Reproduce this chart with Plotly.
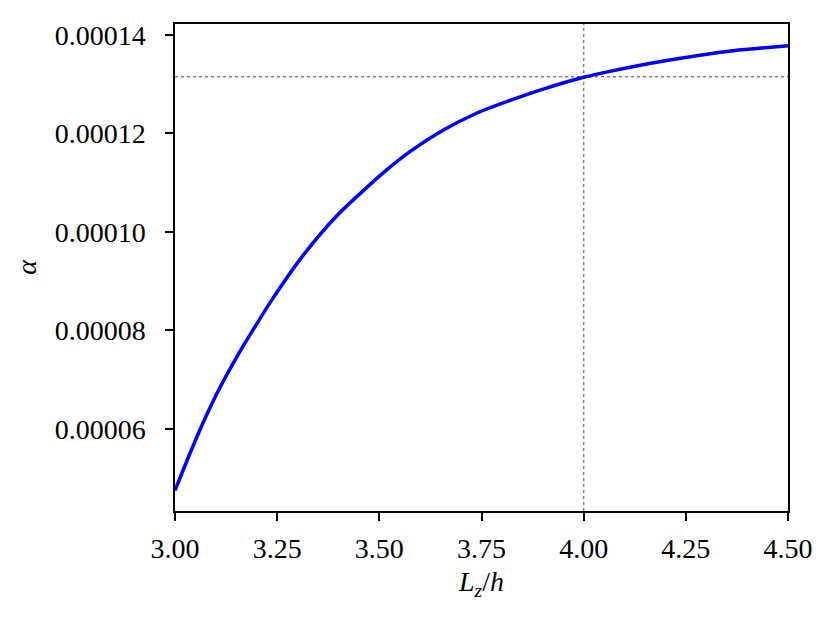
import plotly.graph_objects as go

# Data
lz_h = [3.000, 3.037, 3.069, 3.110, 3.151, 3.188, 3.237, 3.314, 3.396, 3.477, 3.518,
        3.575, 3.657, 3.738, 3.820, 3.901, 4.000, 4.064, 4.203, 4.366, 4.500]
alpha = [4.75e-5, 5.51e-5, 6.13e-5, 6.84e-5, 7.46e-5, 7.97e-5, 8.62e-5, 9.53e-5, 1.033e-4,
         1.096e-4, 1.126e-4, 1.163e-4, 1.207e-4, 1.241e-4, 1.267e-4, 1.290e-4, 1.314e-4,
         1.326e-4, 1.348e-4, 1.368e-4, 1.378e-4]
ref_x = 4.0
ref_y = 1.315e-4

x_tick_vals = [3.00, 3.25, 3.50, 3.75, 4.00, 4.25, 4.50]
y_tick_vals = [6e-5, 8e-5, 1e-4, 1.2e-4, 1.4e-4]

x_range = [3.0, 4.5]
y_range = [4.333e-5, 1.4222e-4]

font_family = "Liberation Serif, DejaVu Serif, serif"

fig = go.Figure()
fig.add_trace(go.Scatter(
    x=lz_h, y=alpha, mode="lines",
    line=dict(color="#0000ff", width=3.5, shape="spline", smoothing=0.7),
    showlegend=False, hoverinfo="skip",
))

fig.add_shape(type="line", xref="x", yref="paper", x0=ref_x, x1=ref_x, y0=0, y1=1,
              line=dict(color="#808080", width=1.5, dash="dot"), layer="below")
fig.add_shape(type="line", xref="paper", yref="y", x0=0, x1=1, y0=ref_y, y1=ref_y,
              line=dict(color="#808080", width=1.5, dash="dot"), layer="below")

axis_common = dict(
    showgrid=False, zeroline=False, showline=True, linecolor="black", linewidth=1.5,
    mirror=True, ticks="outside", ticklen=8, tickwidth=1.5, tickcolor="black",
    tickfont=dict(family=font_family, size=28, color="black"),
)

fig.update_xaxes(range=x_range, tickvals=x_tick_vals, tickformat=".2f",
                 ticklabelstandoff=4,
                 title=dict(text="<i>L</i><sub><i>z</i></sub>/<i>h</i>",
                            font=dict(family=font_family, size=28, color="black"), standoff=8),
                 **axis_common)
fig.update_yaxes(range=y_range, tickvals=y_tick_vals, tickformat=".5f",
                 ticklabelstandoff=14,
                 title=dict(text="<i>α</i>",
                            font=dict(family=font_family, size=28, color="black"), standoff=10),
                 **axis_common)

fig.update_layout(
    width=823, height=611,
    margin=dict(l=167, r=43, t=16, b=108),
    paper_bgcolor="white", plot_bgcolor="white",
    font=dict(family=font_family, color="black"),
)

fig.write_html("out.html")
